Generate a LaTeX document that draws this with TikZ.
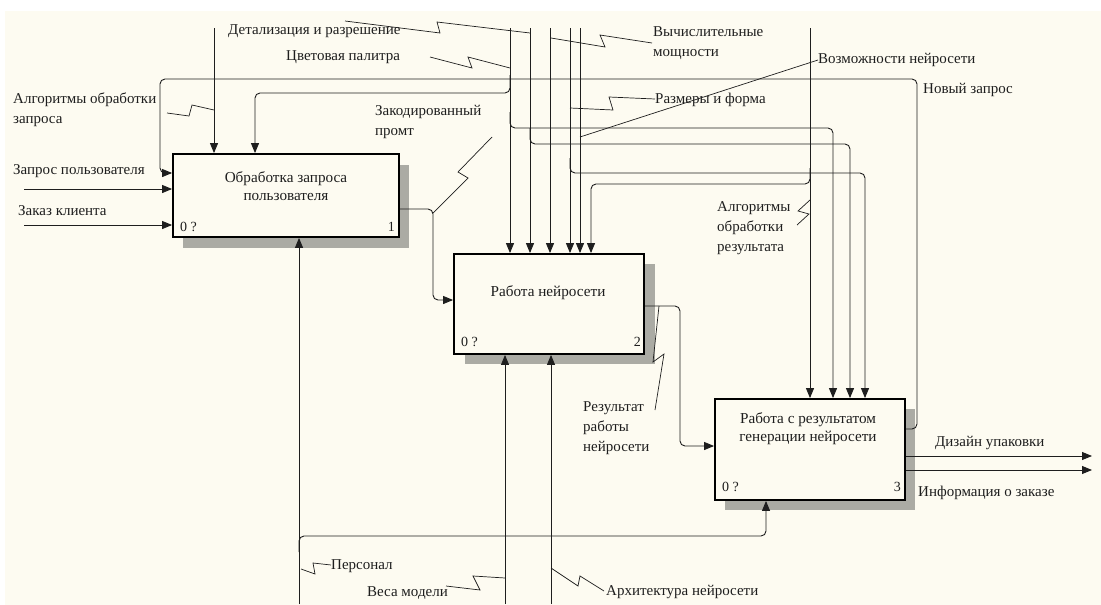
\documentclass[tikz,border=0pt]{standalone}
\usepackage{fontspec}
\setmainfont{Liberation Serif}
\usetikzlibrary{arrows.meta}
\definecolor{paper}{HTML}{FDFBF1}
\definecolor{ink}{HTML}{1E1E1E}
\definecolor{shadowgray}{HTML}{ABABA4}
\begin{document}
\begin{tikzpicture}[x=1pt,y=-1pt,
  lbl/.style={font=\fontsize{15}{20}\selectfont, text=ink, inner sep=0pt, anchor=west, align=left},
  boxtxt/.style={font=\fontsize{15.2}{18}\selectfont, text=ink, inner sep=0pt, align=center},
  num/.style={font=\fontsize{14}{16}\selectfont, text=ink, inner sep=0pt},
  link/.style={draw=ink, line width=0.9pt, rounded corners=5pt},
  arr/.style={link, -{Triangle[length=10pt,width=8pt]}},
  leader/.style={draw=ink, line width=0.7pt},
  act/.style={draw=black, line width=1.8pt, fill=paper, inner sep=0pt},
  boxshadow/.style={fill=shadowgray},
]
% page and paper
\useasboundingbox (0,0) rectangle (1101,605);
\fill[white] (0,0) rectangle (1101,605);
\fill[paper] (5,11) rectangle (1101,605);

% activity boxes with their shadows
\path[boxshadow] (183,165) rectangle (409,248);
\node[act, minimum width=226pt, minimum height=83pt] (b1) at (286,195.5) {};
\path[boxshadow] (465,264) rectangle (655,364);
\node[act, minimum width=190pt, minimum height=100pt] (b2) at (549,304) {};
\path[boxshadow] (725,409) rectangle (915,510);
\node[act, minimum width=190pt, minimum height=101pt] (b3) at (810,449.5) {};

\node[boxtxt] (b1t) at (286,186) {Обработка запроса\\пользователя};
\node[boxtxt] (b2t) at (548,293) {Работа нейросети};
\node[boxtxt] (b3t) at (808,429) {Работа с результатом\\генерации нейросети};
\node[num, anchor=west] (b1a) at (180,227) {0 ?};
\node[num, anchor=east] (b1b) at (395,227) {1};
\node[num, anchor=west] (b2a) at (461,342) {0 ?};
\node[num, anchor=east] (b2b) at (641,342) {2};
\node[num, anchor=west] (b3a) at (722,487) {0 ?};
\node[num, anchor=east] (b3b) at (901,487) {3};

% free ends and bends
\coordinate (tA) at (214,28);
\coordinate (tB) at (510,28);
\coordinate (tC) at (530,28);
\coordinate (tD) at (550,28);
\coordinate (tE) at (570,28);
\coordinate (tF) at (580,28);
\coordinate (tG) at (810,28);
\coordinate (mP) at (299,604);
\coordinate (mW) at (505,604);
\coordinate (mA) at (551,604);
\coordinate (iQ) at (24,189);
\coordinate (iO) at (24,225);
\coordinate (oD) at (1092,456);
\coordinate (oI) at (1092,470);
\coordinate (k1) at (255,93);
\coordinate (k2) at (833,128);
\coordinate (k3) at (850,144);
\coordinate (k4) at (865,173);
\coordinate (k5) at (591,184);
\coordinate (k6) at (433,209);
\coordinate (k7) at (433,300);
\coordinate (k8) at (680,306);
\coordinate (k9) at (680,446);
\coordinate (k10) at (917,429);
\coordinate (k11) at (917,79);
\coordinate (k12) at (160,79);
\coordinate (k13) at (160,173);
\coordinate (k15) at (766,536);

% controls
\draw[arr] (tA) -- (tA |- b1.north);
\draw[arr] (tB) -- (tB |- b2.north);
\draw[arr] (tC) -- (tC |- b2.north);
\draw[arr] (tD) -- (tD |- b2.north);
\draw[arr] (tE) -- (tE |- b2.north);
\draw[arr] (tF) -- (tF |- b2.north);
\draw[arr] (tG) -- (tG |- b3.north);
\draw[arr] (510,75) |- (k1) -- (k1 |- b1.north);
\draw[arr] (510,112) |- (k2) -- (k2 |- b3.north);
\draw[arr] (530,128) |- (k3) -- (k3 |- b3.north);
\draw[arr] (570,158) |- (k4) -- (k4 |- b3.north);
\draw[arr] (810,168) |- (k5) -- (k5 |- b2.north);

% inputs and outputs
\draw[arr] (iQ) -- (iQ -| b1.west);
\draw[arr] (iO) -- (iO -| b1.west);
\draw[arr] (b1.east |- k6) -- (k6) -- (k7) -- (k7 -| b2.west);
\draw[arr] (b2.east |- k8) -- (k8) -- (k9) -- (k9 -| b3.west);
\draw[arr] (b3.east |- k10) -- (k10) -- (k11) -- (k12) -- (k13) -- (k13 -| b1.west);
\draw[arr] (b3.east |- oD) -- (oD);
\draw[arr] (b3.east |- oI) -- (oI);

% mechanisms
\draw[arr] (mP) -- (mP |- b1.south);
\draw[arr] (299,552) |- (k15) -- (k15 |- b3.south);
\draw[arr] (mW) -- (mW |- b2.south);
\draw[arr] (mA) -- (mA |- b2.south);

% labels
\node[lbl] (lDet) at (228,31) {Детализация и разрешение};
\node[lbl] (lPal) at (286,57) {Цветовая палитра};
\node[lbl] (lVych) at (653,43) {Вычислительные\\мощности};
\node[lbl] (lVoz) at (818,60) {Возможности нейросети};
\node[lbl] (lNew) at (923,90) {Новый запрос};
\node[lbl] (lAlg) at (13,110) {Алгоритмы обработки\\запроса};
\node[lbl] (lRaz) at (655,100) {Размеры и форма};
\node[lbl] (lPromt) at (375,122) {Закодированный\\промт};
\node[lbl] (lZap) at (13,171) {Запрос пользователя};
\node[lbl] (lZak) at (18,211) {Заказ клиента};
\node[lbl] (lAlgR) at (717,228) {Алгоритмы\\обработки\\результата};
\node[lbl] (lRes) at (583,428) {Результат\\работы\\нейросети};
\node[lbl] (lDiz) at (935,443) {Дизайн упаковки};
\node[lbl] (lInf) at (918,493) {Информация о заказе};
\node[lbl] (lPers) at (331,566) {Персонал};
\node[lbl] (lVes) at (367,593) {Веса модели};
\node[lbl] (lArch) at (606,592) {Архитектура нейросети};

% leader squiggles
\draw[leader] (345,21) -- (440,33) -- (437,22) -- (530,33);
\draw[leader] (430,57) -- (472,68) -- (468,57) -- (510,68);
\draw[leader] (551,38) -- (605,47) -- (600,35) -- (652,43);
\draw[leader] (818,60) -- (580,137);
\draw[leader] (167,113) -- (189,116) -- (192,105) -- (214,110);
\draw[leader] (570,108) -- (613,110) -- (609,97) -- (655,99);
\draw[leader] (492,137) -- (458,172) -- (468,178) -- (433,213);
\draw[leader] (810,200) -- (798,211) -- (809,214) -- (797,225);
\draw[leader] (659,306) -- (653,362) -- (664,354) -- (655,410);
\draw[leader] (301,569) -- (315,574) -- (313,563) -- (331,565);
\draw[leader] (446,586) -- (480,590) -- (473,576) -- (505,578);
\draw[leader] (551,568) -- (578,586) -- (580,576) -- (604,591);
\end{tikzpicture}
\end{document}
